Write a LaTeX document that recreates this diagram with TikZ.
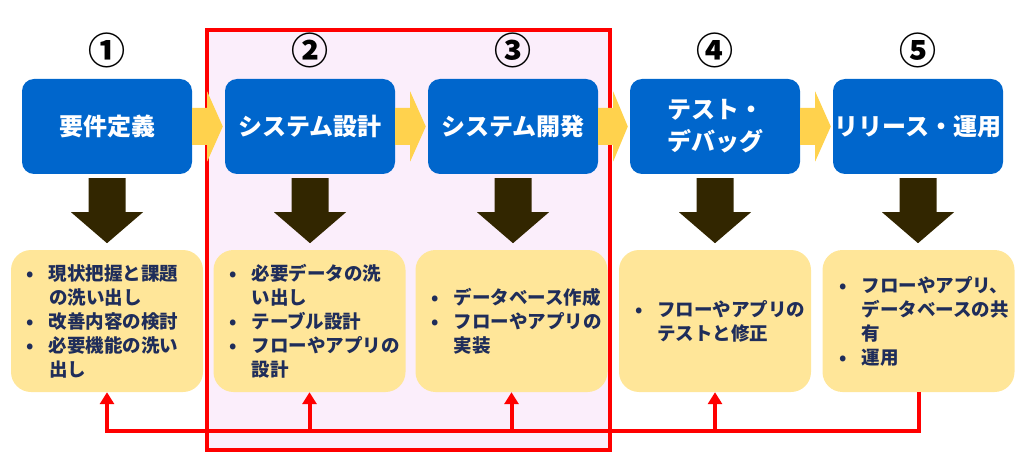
\documentclass[tikz,border=0pt]{standalone}
\usepackage{fontspec}
\setmainfont{Noto Sans CJK JP}
\usetikzlibrary{arrows.meta,calc}
\definecolor{bluebox}{RGB}{0,102,204}
\definecolor{ybox}{RGB}{255,230,153}
\definecolor{yarrow}{RGB}{255,210,77}
\definecolor{darr}{RGB}{50,38,0}
\definecolor{navy}{RGB}{31,45,90}
\definecolor{pinkfill}{RGB}{251,238,251}
\tikzset{
  groupframe/.style={draw=red,line width=4.5pt,fill=pinkfill,minimum width=403pt,minimum height=420pt,inner sep=0pt},
  stage/.style={rounded corners=12pt,fill=bluebox,minimum width=170pt,minimum height=95pt,text=white,
    font=\bfseries\fontsize{24}{32}\selectfont,align=center,inner sep=0pt},
  num/.style={font=\bfseries\fontsize{37}{37}\selectfont,text=black,inner sep=0pt},
  detail/.style={rounded corners=20pt,fill=ybox,minimum width=192pt,minimum height=142pt,inner sep=0pt},
  dtext/.style={anchor=west,align=left,text=navy,font=\bfseries\fontsize{18.5}{24}\selectfont,inner sep=0pt},
  downarrow/.style={fill=darr},
  nextarrow/.style={fill=yarrow},
  fb/.style={draw=red,line width=4pt},
  fbtip/.style={-{Triangle[width=14pt,length=12pt]}}
}
\newcommand\bl{\makebox[22pt][l]{•}}
\newcommand\ind{\hspace*{22pt}}
\begin{document}
\begin{tikzpicture}[x=1pt,y=-1pt]
\useasboundingbox (0,0) rectangle (1024,462);
\node[groupframe] (grp) at (408.5,240) {};
% stage boxes
\node[stage] (b1) at (107,126.5) {要件定義};
\node[stage] (b2) at (310,126.5) {システム設計};
\node[stage] (b3) at (513,126.5) {システム開発};
\node[stage] (b4) at (715,126.5) {テスト・\\デバッグ};
\node[stage] (b5) at (918,126.5) {リリース・運用};
% numbers
\node[num] (n1) at (107,50) {①};
\node[num] (n2) at (310,50) {②};
\node[num] (n3) at (513,50) {③};
\node[num] (n4) at (715,50) {④};
\node[num] (n5) at (918,50) {⑤};
% detail boxes
\node[detail] (y1) at (107,321) {};
\node[detail] (y2) at (309.5,321) {};
\node[detail] (y3) at (511.5,321) {};
\node[detail] (y4) at (715,321) {};
\node[detail] (y5) at (918.5,321) {};
\node[dtext] (t1) at ([xshift=16pt]y1.west) {\bl 現状把握と課題\\\ind の洗い出し\\\bl 改善内容の検討\\\bl 必要機能の洗い\\\ind 出し};
\node[dtext] (t2) at ([xshift=16pt]y2.west) {\bl 必要データの洗\\\ind い出し\\\bl テーブル設計\\\bl フローやアプリの\\\ind 設計};
\node[dtext] (t3) at ([xshift=16pt]y3.west) {\bl データベース作成\\\bl フローやアプリの\\\ind 実装};
\node[dtext] (t4) at ([xshift=16pt]y4.west) {\bl フローやアプリの\\\ind テストと修正};
\node[dtext] (t5) at ([xshift=17pt]y5.west) {\bl フローやアプリ、\\\ind データベースの共\\\ind 有\\\bl 運用};
% down arrows
\foreach \i in {1,...,5}{
  \fill[downarrow] ($(b\i.south)+(-18.5,4)$) -- ++(37,0) -- ++(0,34) -- ++(17.5,0)
    -- ($(b\i.south)+(0,69)$) -- ($(b\i.south)+(-36,38)$) -- ($(b\i.south)+(-18.5,38)$) -- cycle;
}
% next arrows
\foreach \i/\j in {1/2,2/3,3/4,4/5}{
  \fill[nextarrow] ($(b\i.east)+(0,-18.5)$) -- ++(15,0) -- ++(0,-16.5) -- ($(b\j.west)+(-2,0)$)
    -- ($(b\i.east)+(15,35)$) -- ++(0,-16.5) -- ($(b\i.east)+(0,18.5)$) -- cycle;
}
% feedback
\draw[fb,fbtip] (y5.south) -- ++(0,39) coordinate (fbc) -| (y1.south);
\draw[fb,fbtip] (fbc -| y2.south) -- (y2.south);
\draw[fb,fbtip] (fbc -| y3.south) -- (y3.south);
\draw[fb,fbtip] (fbc -| y4.south) -- (y4.south);
\end{tikzpicture}
\end{document}
